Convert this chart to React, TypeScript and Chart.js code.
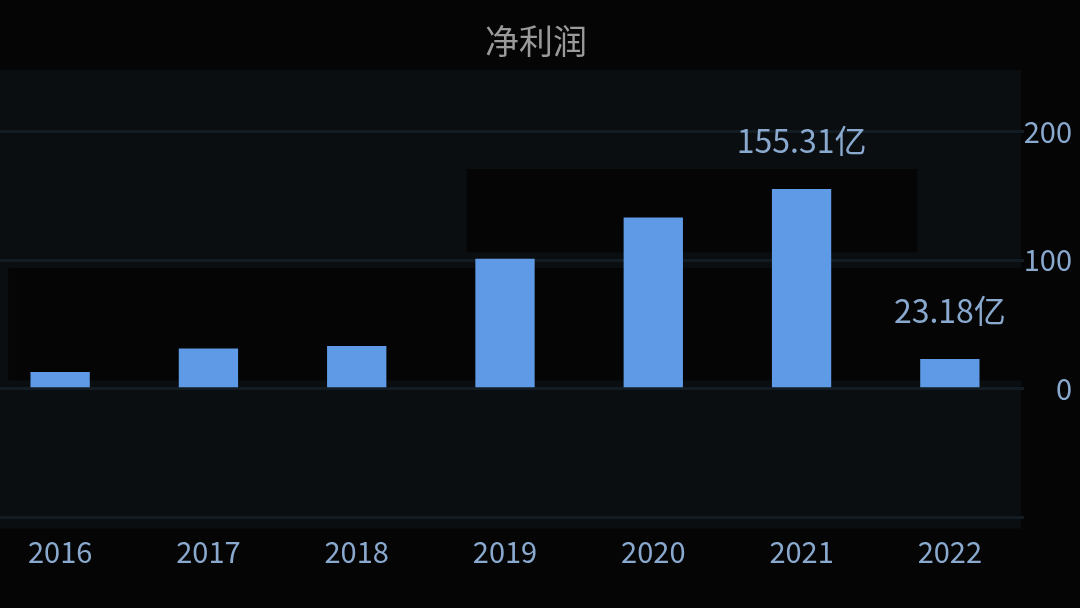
import React, { useEffect, useRef } from "react";
import { Chart, registerables, Plugin } from "chart.js";

Chart.register(...registerables);

const years = ["2016", "2017", "2018", "2019", "2020", "2021", "2022"];
const netProfit = [13.0, 31.2, 33.3, 101.1, 133.3, 155.31, 23.18];
const labeledYears = ["2021", "2022"];
const yTickValues = [-100, 0, 100, 200];
// dark shaded bands behind the bars, in category index / value units
const bandFrom = [-0.35, 2.74];
const bandTo = [6.6, 5.78];
const bandLow = [6.5, 106.2];
const bandHigh = [93.8, 170.9];

const FONT = "'Noto Sans CJK SC', 'Noto Sans', sans-serif";

const panelPlugin: Plugin<"bar"> = {
  id: "panel",
  afterLayout(chart) {
    // keep the right-aligned y labels close to the plot, title stays centred
    const y = chart.scales.y;
    y.right = y.left + 48;
  },
  beforeDraw(chart) {
    const { ctx, chartArea, scales } = chart;
    ctx.save();
    ctx.fillStyle = "#0a0e11";
    ctx.fillRect(
      chartArea.left,
      chartArea.top,
      chartArea.right - chartArea.left - 3,
      chartArea.bottom - chartArea.top
    );
    ctx.fillStyle = "#050505";
    bandFrom.forEach((from, i) => {
      const x1 = scales.x.getPixelForValue(from);
      const x2 = scales.x.getPixelForValue(bandTo[i]);
      const y1 = scales.y.getPixelForValue(bandHigh[i]);
      const y2 = scales.y.getPixelForValue(bandLow[i]);
      ctx.fillRect(x1, y1, Math.min(x2, chartArea.right - 3) - x1, y2 - y1);
    });
    ctx.restore();
  },
};

const valueLabelPlugin: Plugin<"bar"> = {
  id: "valueLabels",
  afterDatasetsDraw(chart) {
    const { ctx } = chart;
    const meta = chart.getDatasetMeta(0);
    ctx.save();
    ctx.font = `32px ${FONT}`;
    ctx.fillStyle = "#8aa9cf";
    ctx.textAlign = "center";
    ctx.textBaseline = "alphabetic";
    years.forEach((year, i) => {
      if (!labeledYears.includes(year)) return;
      const bar = meta.data[i] as any;
      ctx.fillText(`${netProfit[i].toFixed(2)}亿`, bar.x, bar.y - 36);
    });
    ctx.restore();
  },
};

const App: React.FC = () => {
  const chartRef = useRef<HTMLCanvasElement | null>(null);

  useEffect(() => {
    const ctx = chartRef.current?.getContext("2d");
    if (!ctx) return;

    const chart = new Chart(ctx, {
      type: "bar",
      data: {
        labels: years,
        datasets: [
          {
            label: "净利润",
            data: netProfit,
            backgroundColor: "#5f9ae6",
            borderWidth: 0,
            barPercentage: 0.4,
            categoryPercentage: 1,
          },
        ],
      },
      options: {
        responsive: true,
        maintainAspectRatio: false,
        animation: false,
        layout: { padding: { right: 8, bottom: 32.4, left: 0, top: 0 } },
        scales: {
          x: {
            grid: { display: false, drawTicks: false },
            border: { display: false },
            ticks: {
              color: "#8aa9cf",
              font: { family: FONT, size: 29 },
              padding: 6,
            },
          },
          y: {
            position: "right",
            min: -109,
            max: 248,
            afterBuildTicks: (axis) => {
              axis.ticks = yTickValues.map((v) => ({ value: v }));
            },
            afterFit: (axis) => {
              axis.width = 62;
            },
            grid: { color: "#131b23", lineWidth: 3, drawTicks: false },
            border: { display: false },
            ticks: {
              color: "#8aa9cf",
              font: { family: FONT, size: 29 },
              padding: 1,
              crossAlign: "far",
              callback: (v) => (Number(v) < 0 ? "" : String(v)),
            },
          },
        },
        plugins: {
          legend: { display: false },
          tooltip: { enabled: false },
          title: {
            display: true,
            text: "净利润",
            color: "#9a9a9a",
            font: { family: FONT, size: 34, weight: "normal" },
            padding: { top: 20.6, bottom: 8.6 },
          },
        },
      },
      plugins: [panelPlugin, valueLabelPlugin],
    });

    return () => {
      chart.destroy();
    };
  }, []);

  return (
    <div
      style={{
        position: "fixed",
        left: 0,
        top: 0,
        width: 1080,
        height: 608,
        overflow: "hidden",
        background: "#050505",
      }}
    >
      <div style={{ position: "absolute", left: -14, top: 0, width: 1108, height: 608 }}>
        <canvas ref={chartRef}></canvas>
      </div>
    </div>
  );
};

export default App;
